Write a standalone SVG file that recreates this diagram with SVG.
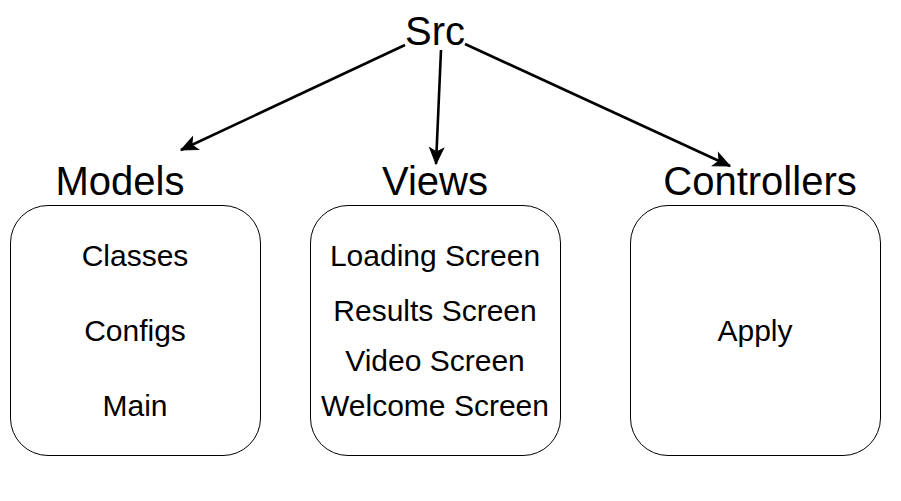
<svg xmlns="http://www.w3.org/2000/svg" width="901" height="501" viewBox="0 0 901 501">
<defs>
<style>
.box{fill:#ffffff;stroke:#000000;stroke-width:1}
.big{font-family:"Liberation Sans",Arial,sans-serif;font-size:40px;fill:#000;text-anchor:middle}
.item{font-family:"Liberation Sans",Arial,sans-serif;font-size:30px;fill:#000;text-anchor:middle}
.edge{fill:none;stroke:#000;stroke-width:2.6}
</style>
<marker id="arrow" markerUnits="userSpaceOnUse" markerWidth="20" markerHeight="20" viewBox="0 0 20 20" refX="18" refY="10" orient="auto">
<path d="M2,3 L18,10 L2,17 L6,10 Z" fill="#000" stroke="#000" stroke-width="1"/>
</marker>
</defs>
<rect width="901" height="501" fill="#ffffff"/>
<g id="src"><text class="big" x="435" y="45">Src</text></g>
<g id="connectors">
<line class="edge" x1="405" y1="45" x2="181" y2="150" marker-end="url(#arrow)"/>
<line class="edge" x1="441" y1="50" x2="436" y2="164" marker-end="url(#arrow)"/>
<line class="edge" x1="465" y1="44" x2="730" y2="166" marker-end="url(#arrow)"/>
</g>
<g id="models">
<text class="big" x="120" y="195">Models</text>
<rect class="box" x="10.5" y="205.5" width="250" height="250" rx="37.5" ry="37.5"/>
<text class="item" x="135" y="266">Classes</text>
<text class="item" x="135" y="341">Configs</text>
<text class="item" x="135" y="416">Main</text>
</g>
<g id="views">
<text class="big" x="435" y="195">Views</text>
<rect class="box" x="310.5" y="205.5" width="250" height="250" rx="37.5" ry="37.5"/>
<text class="item" x="435" y="266">Loading Screen</text>
<text class="item" x="435" y="321">Results Screen</text>
<text class="item" x="435" y="371">Video Screen</text>
<text class="item" x="435" y="416">Welcome Screen</text>
</g>
<g id="controllers">
<text class="big" x="760" y="195">Controllers</text>
<rect class="box" x="630.5" y="205.5" width="250" height="250" rx="37.5" ry="37.5"/>
<text class="item" x="755" y="341">Apply</text>
</g>
</svg>
